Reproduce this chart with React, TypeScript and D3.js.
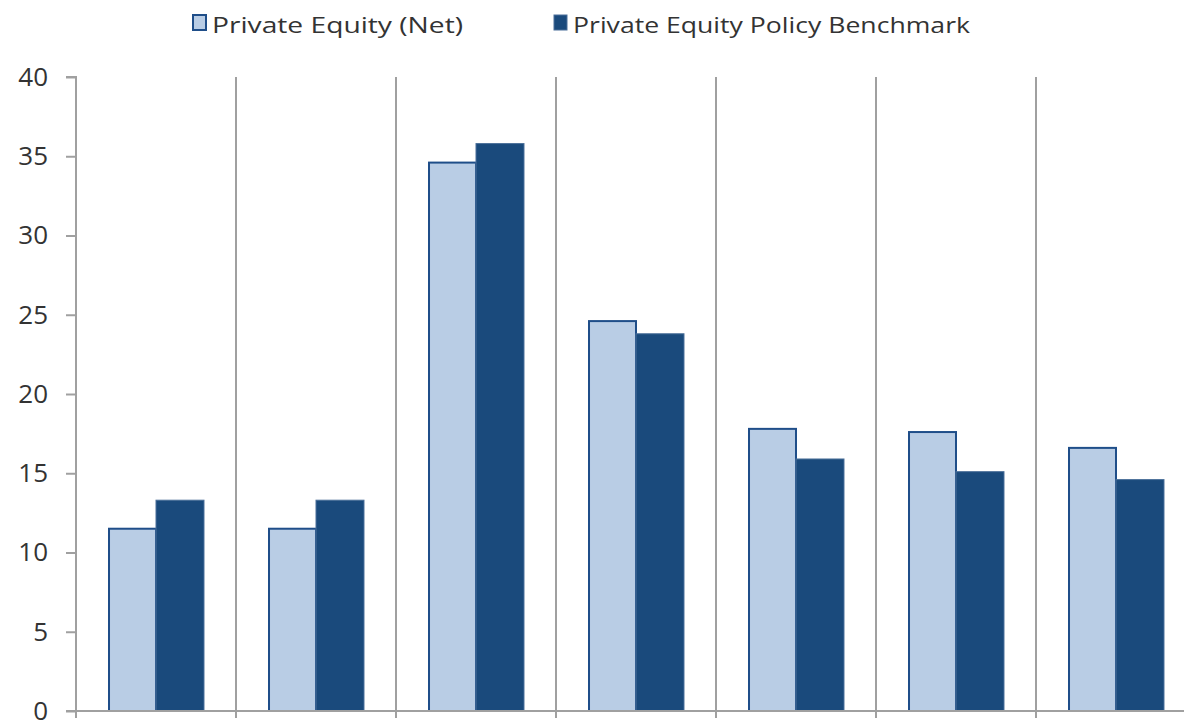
import React, { useEffect, useRef } from 'react';
import * as d3 from 'd3';

const categories = ['P1', 'P2', 'P3', 'P4', 'P5', 'P6', 'P7'];
const seriesNames = ['Private Equity (Net)', 'Private Equity Policy Benchmark'];
const netValues = [11.5, 11.5, 34.6, 24.6, 17.8, 17.6, 16.6];
const benchmarkValues = [13.3, 13.3, 35.8, 23.8, 15.9, 15.1, 14.6];
const yTicks = [0, 5, 10, 15, 20, 25, 30, 35, 40];

const App = () => {
  const svgRef = useRef<SVGSVGElement | null>(null);

  useEffect(() => {
    const svg = d3.select(svgRef.current);
    svg.selectAll('*').remove();

    const width = 1184;
    const height = 721;
    const left = 76;
    const top = 77;
    const bottom = 711;
    const groupW = 160;
    const font = '"Open Sans", Lato, sans-serif';

    const x = d3.scaleBand<string>()
      .domain(categories)
      .range([left, left + groupW * categories.length])
      .padding(0);

    const inner = d3.scaleBand<string>()
      .domain(seriesNames)
      .range([0, groupW])
      .paddingInner(0)
      .paddingOuter(0.667);

    const y = d3.scaleLinear().domain([0, 40]).range([bottom, top]);

    const colors = ['#b9cde5', '#1a4a7c'];
    const strokes = ['#1f4e89', '#4a6f99'];

    // vertical separators between groups
    svg.append('g')
      .selectAll('line')
      .data(categories.slice(1).concat(['end']))
      .enter()
      .append('line')
      .attr('x1', (_, i) => left + groupW * (i + 1))
      .attr('x2', (_, i) => left + groupW * (i + 1))
      .attr('y1', top)
      .attr('y2', bottom + 7)
      .attr('stroke', '#a0a0a0')
      .attr('stroke-width', 2);

    // bars
    const data = categories.map((c, i) => ({ c, vals: [netValues[i], benchmarkValues[i]] }));
    const groups = svg.append('g')
      .selectAll('g')
      .data(data)
      .enter()
      .append('g')
      .attr('transform', d => `translate(${x(d.c)},0)`);

    groups.selectAll('rect')
      .data(d => d.vals.map((v, k) => ({ v, k })))
      .enter()
      .append('rect')
      .attr('x', d => (inner(seriesNames[d.k]) as number) + (d.k === 0 ? 1 : 0))
      .attr('y', d => y(d.v))
      .attr('width', d => inner.bandwidth() - (d.k === 0 ? 1 : 0))
      .attr('height', d => bottom - y(d.v))
      .attr('fill', d => colors[d.k])
      .attr('stroke', d => strokes[d.k])
      .attr('stroke-width', d => (d.k === 0 ? 2 : 1));

    // axes
    const yAxis = svg.append('g')
      .attr('transform', `translate(${left},0)`)
      .call(d3.axisLeft(y).tickValues(yTicks).tickSize(10).tickPadding(18).tickSizeOuter(0));
    yAxis.select('.domain').attr('stroke', '#a0a0a0').attr('stroke-width', 2)
      .attr('d', `M-10,${top}H0V${bottom + 7}`);
    yAxis.selectAll('.tick line').attr('stroke', '#a0a0a0').attr('stroke-width', 2);
    yAxis.selectAll('.tick text')
      .attr('font-family', font)
      .attr('font-size', 26)
      .attr('fill', '#333');

    svg.append('line')
      .attr('x1', left - 10)
      .attr('x2', width)
      .attr('y1', bottom)
      .attr('y2', bottom)
      .attr('stroke', '#a0a0a0')
      .attr('stroke-width', 2);

    // legend
    const legendX = [192, 553];
    const legendLen = [251, 397];
    const leg = svg.append('g')
      .selectAll('g')
      .data(seriesNames)
      .enter()
      .append('g')
      .attr('transform', (_, i) => `translate(${legendX[i]},14)`);
    leg.append('rect')
      .attr('x', 1)
      .attr('y', 1)
      .attr('width', 13)
      .attr('height', 15)
      .attr('fill', (_, i) => colors[i])
      .attr('stroke', (_, i) => strokes[i])
      .attr('stroke-width', (_, i) => (i === 0 ? 2 : 1));
    leg.append('text')
      .attr('x', 20)
      .attr('y', 19)
      .attr('font-family', font)
      .attr('font-size', 22)
      .attr('fill', '#333')
      .attr('textLength', (_, i) => legendLen[i])
      .attr('lengthAdjust', 'spacingAndGlyphs')
      .text(d => d);

    svg.attr('width', width).attr('height', height);
  }, []);

  return (
    <svg ref={svgRef} width={1184} height={721}
      style={{ position: 'absolute', left: 0, top: 0, background: '#fff' }} />
  );
};

export default App;
